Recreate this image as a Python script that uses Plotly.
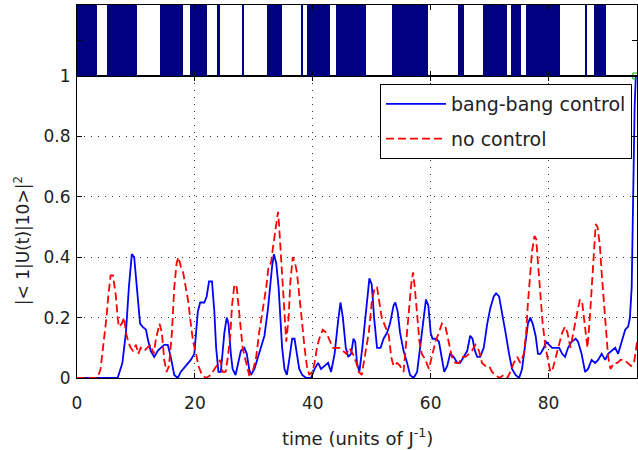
import plotly.graph_objects as go

# ---- data ----
t_bang = [0, 6.9, 7.7, 8.3, 8.8, 9.3, 9.7, 10.0, 10.3, 10.7, 11.1, 11.7, 12.0, 12.5, 13.1, 13.7, 14.2, 14.8,
          15.4, 15.9, 16.5, 17.1, 17.6, 18.5, 19.3, 19.9, 20.2, 20.5, 20.9, 21.6, 22.0, 22.4, 22.9, 23.3, 23.6,
          24.0, 24.4, 25.0, 25.4, 25.7, 26.1, 26.4, 26.9, 27.4, 27.8, 28.4, 28.8, 29.2, 29.5, 30.1, 30.7, 31.2,
          31.8, 32.4, 32.8, 33.1, 33.4, 33.8, 34.2, 34.5, 34.8, 35.2, 35.6, 36.0, 36.5, 36.9, 37.3, 37.7, 38.2,
          38.9, 39.7, 40.3, 40.9, 41.4, 42.0, 42.6, 43.1, 43.7, 44.3, 44.7, 45.1, 45.6, 46.0, 46.5, 46.9, 47.2,
          47.5, 47.9, 48.4, 48.9, 49.4, 49.6, 50.0, 50.4, 50.9, 51.5, 52.0, 52.6, 53.1, 53.7, 54.0, 54.4, 54.8,
          55.4, 56.0, 56.5, 57.1, 57.7, 58.2, 58.8, 59.2, 59.6, 60.0, 60.3, 60.9, 61.4, 61.8, 62.3, 62.8, 63.3,
          63.9, 64.5, 65.0, 65.6, 66.2, 66.7, 67.1, 67.5, 67.9, 68.4, 69.0, 69.6, 70.1, 70.7, 71.1, 71.6, 72.1,
          72.7, 73.3, 73.8, 74.4, 75.0, 75.5, 76.1, 76.5, 76.9, 77.3, 77.8, 78.2, 78.6, 79.2, 79.6, 80.1, 80.6,
          81.2, 81.8, 82.3, 82.8, 83.3, 83.9, 84.6, 85.0, 85.6, 86.2, 86.7, 87.3, 87.9, 88.4, 89.0, 89.6, 90.1,
          90.7, 91.3, 91.8, 92.4, 93.0, 93.5, 93.8, 94.1, 94.3, 94.6, 94.8]
p_bang = [0, 0, 0.05, 0.15, 0.30, 0.41, 0.40, 0.33, 0.25, 0.18, 0.17, 0.16, 0.13, 0.09, 0.07, 0.09, 0.10, 0.11,
          0.11, 0.07, 0.01, 0.0, 0.02, 0.04, 0.06, 0.08, 0.15, 0.22, 0.25, 0.25, 0.27, 0.32, 0.32, 0.22, 0.10,
          0.02, 0.02, 0.15, 0.20, 0.18, 0.08, 0.03, 0.01, 0.05, 0.09, 0.10, 0.08, 0.03, 0.01, 0.03, 0.07, 0.10,
          0.14, 0.23, 0.32, 0.37, 0.41, 0.38, 0.30, 0.20, 0.10, 0.03, 0.01, 0.06, 0.13, 0.13, 0.08, 0.03, 0.01,
          0.0, 0.0, 0.03, 0.05, 0.03, 0.04, 0.05, 0.02, 0.08, 0.19, 0.25, 0.20, 0.10, 0.07, 0.08, 0.13, 0.12,
          0.05, 0.02, 0.10, 0.20, 0.30, 0.33, 0.31, 0.20, 0.10, 0.10, 0.13, 0.15, 0.18, 0.24, 0.25, 0.22, 0.15,
          0.09, 0.05, 0.01, 0.0, 0.02, 0.10, 0.20, 0.26, 0.24, 0.15, 0.13, 0.13, 0.12, 0.08, 0.02, 0.04, 0.08,
          0.07, 0.05, 0.05, 0.07, 0.09, 0.14, 0.13, 0.09, 0.07, 0.07, 0.10, 0.18, 0.23, 0.27, 0.28, 0.27, 0.22,
          0.15, 0.08, 0.03, 0.01, 0.0, 0.03, 0.12, 0.18, 0.20, 0.18, 0.14, 0.08, 0.08, 0.10, 0.12, 0.11, 0.10,
          0.10, 0.10, 0.08, 0.07, 0.10, 0.12, 0.13, 0.12, 0.08, 0.02, 0.03, 0.06, 0.05, 0.06, 0.08, 0.06, 0.08,
          0.09, 0.10, 0.08, 0.12, 0.16, 0.17, 0.20, 0.30, 0.60, 0.90, 1.0]

t_none = [0, 3.5, 4.0, 4.6, 5.0, 5.3, 5.7, 6.1, 6.6, 6.9, 7.1, 7.6, 8.0, 8.3, 8.7, 9.1, 9.5, 10.0, 10.4, 10.8,
          11.4, 11.9, 12.5, 13.0, 13.4, 14.0, 14.4, 14.8, 15.2, 15.6, 16.1, 16.5, 16.9, 17.2, 17.6, 18.0, 18.5,
          18.9, 19.3, 19.7, 20.2, 20.6, 21.2, 21.9, 22.7, 23.3, 23.9, 24.3, 24.7, 25.2, 25.6, 26.0, 26.3, 26.7,
          27.1, 27.5, 27.8, 28.1, 28.7, 29.2, 29.8, 30.4, 30.9, 31.5, 32.1, 32.5, 32.9, 33.3, 33.7, 34.1, 34.3,
          34.6, 34.9, 35.2, 35.5, 35.9, 36.2, 36.6, 37.0, 37.3, 37.7, 38.1, 38.6, 39.0, 39.4, 39.9, 40.3, 40.7,
          41.1, 41.7, 42.3, 42.9, 43.4, 44.0, 44.5, 45.1, 45.7, 46.2, 46.8, 47.4, 47.8, 48.3, 48.9, 49.5, 50.0,
          50.5, 50.9, 51.3, 51.7, 52.3, 52.9, 53.3, 53.7, 54.3, 54.8, 55.4, 55.8, 56.3, 56.7, 57.0, 57.3, 57.7,
          58.1, 58.5, 59.1, 59.7, 60.2, 60.8, 61.4, 61.9, 62.5, 63.1, 63.6, 64.2, 64.8, 65.3, 65.9, 66.5, 67.0,
          67.6, 68.2, 68.7, 69.3, 69.9, 70.4, 71.0, 71.6, 72.4, 73.0, 73.5, 74.1, 74.7, 75.2, 75.8, 76.2, 76.5,
          76.9, 77.2, 77.6, 77.9, 78.2, 78.6, 79.0, 79.5, 80.0, 80.3, 80.7, 81.2, 81.8, 82.3, 82.8, 83.2, 83.7,
          84.3, 84.9, 85.3, 85.7, 86.2, 86.6, 87.0, 87.3, 87.7, 88.0, 88.3, 88.7, 89.0, 89.4, 89.7, 90.1, 90.5,
          91.1, 91.7, 92.2, 92.8, 93.4, 94.0, 94.5, 95.0]
p_none = [0, 0, 0.03, 0.13, 0.20, 0.27, 0.34, 0.34, 0.27, 0.20, 0.17, 0.18, 0.20, 0.15, 0.12, 0.10, 0.09, 0.11,
          0.08, 0.10, 0.09, 0.10, 0.11, 0.08, 0.13, 0.18, 0.15, 0.06, 0.02, 0.04, 0.15, 0.30, 0.38, 0.40, 0.37,
          0.35, 0.30, 0.25, 0.18, 0.12, 0.08, 0.04, 0.01, 0.0, 0.01, 0.03, 0.05, 0.06, 0.02, 0.02, 0.07, 0.14,
          0.24, 0.31, 0.30, 0.22, 0.15, 0.10, 0.05, 0.01, 0.02, 0.07, 0.15, 0.22, 0.30, 0.37, 0.38, 0.44, 0.50,
          0.55, 0.50, 0.40, 0.30, 0.20, 0.12, 0.20, 0.32, 0.40, 0.38, 0.35, 0.28, 0.20, 0.10, 0.04, 0.01, 0.02,
          0.05, 0.10, 0.13, 0.16, 0.15, 0.12, 0.10, 0.10, 0.10, 0.09, 0.08, 0.10, 0.08, 0.05, 0.02, 0.01, 0.08,
          0.15, 0.25, 0.30, 0.30, 0.25, 0.20, 0.17, 0.14, 0.07, 0.04, 0.05, 0.04, 0.02, 0.10, 0.22, 0.31, 0.35,
          0.30, 0.20, 0.12, 0.08, 0.06, 0.03, 0.07, 0.12, 0.15, 0.18, 0.17, 0.12, 0.07, 0.05, 0.05, 0.07, 0.07,
          0.08, 0.09, 0.11, 0.09, 0.05, 0.04, 0.04, 0.02, 0.01, 0.0, 0.01, 0.0, 0.02, 0.05, 0.07, 0.05, 0.08,
          0.15, 0.25, 0.35, 0.42, 0.47, 0.46, 0.38, 0.28, 0.18, 0.10, 0.05, 0.02, 0.03, 0.07, 0.12, 0.15, 0.17,
          0.15, 0.10, 0.16, 0.23, 0.26, 0.25, 0.17, 0.10, 0.20, 0.30, 0.42, 0.51, 0.50, 0.44, 0.35, 0.25, 0.15,
          0.07, 0.03, 0.05, 0.05, 0.06, 0.06, 0.05, 0.04, 0.05, 0.12]

# control pulses (on intervals) shown in the top strip
pulse_start = [0.0, 5.1, 14.1, 19.2, 23.8, 28.1, 32.3, 38.1, 39.1, 43.9, 53.4, 64.7, 68.9, 73.7, 76.1, 86.3, 87.7]
pulse_end = [3.4, 10.2, 18.0, 22.0, 24.3, 28.4, 34.7, 38.3, 42.9, 49.0, 59.6, 65.7, 73.0, 75.4, 81.9, 86.6, 89.7]

x_ticks = [0, 20, 40, 60, 80]
y_ticks = [0, 0.2, 0.4, 0.6, 0.8, 1]
y_ticktext = ["0", "0.2", "0.4", "0.6", "0.8", "1"]

FONT = "DejaVu Sans"
TXT = "#222222"

fig = go.Figure()

# top strip bars
centers = [(s + e) / 2 for s, e in zip(pulse_start, pulse_end)]
widths = [e - s for s, e in zip(pulse_start, pulse_end)]
fig.add_trace(go.Bar(x=centers, y=[1] * len(centers), width=widths, base=0,
                     marker=dict(color="#000080", line=dict(width=0)),
                     xaxis="x2", yaxis="y2", showlegend=False, hoverinfo="skip"))

fig.add_trace(go.Scatter(x=t_bang, y=p_bang, mode="lines", name="bang-bang control",
                         line=dict(color="#0000ff", width=1.8), legendgroup="a"))
fig.add_trace(go.Scatter(x=t_none, y=p_none, mode="lines", name="no control",
                         line=dict(color="#ff0000", width=1.8, dash="8px,4px"), legendgroup="b"))
fig.add_trace(go.Scatter(x=[t_bang[-1]], y=[p_bang[-1]], mode="markers",
                         marker=dict(symbol="square-open", color="#00aa00", size=6),
                         showlegend=False, cliponaxis=False))

main_top = 0.8097

axis_common = dict(showline=True, linecolor="black", linewidth=1, mirror="ticks",
                   ticks="inside", ticklen=5, tickcolor="black", zeroline=False, automargin=False)
tickfont = dict(family=FONT, size=17, color=TXT)

fig.update_layout(
    width=638, height=450,
    margin=dict(l=77, r=1, t=5, b=72, autoexpand=False),
    paper_bgcolor="white", plot_bgcolor="white",
    font=dict(family=FONT, size=16, color=TXT),
    bargap=0,
    xaxis=dict(domain=[0, 1], range=[0, 95], anchor="y", tickvals=x_ticks, tickfont=tickfont,
               ticklabelstandoff=10,
               showgrid=True, gridcolor="#333333", gridwidth=1, griddash="1px,6px",
               **axis_common),
    yaxis=dict(domain=[0, main_top], range=[0, 1], anchor="x", tickvals=y_ticks, ticktext=y_ticktext,
               tickfont=tickfont, ticklabelstandoff=2,
               showgrid=True, gridcolor="#333333", gridwidth=1, griddash="1px,6px",
               **axis_common),
    xaxis2=dict(domain=[0, 1], range=[0, 95], anchor="y2", matches="x", tickvals=x_ticks,
                showticklabels=False, showgrid=False, **axis_common),
    yaxis2=dict(domain=[main_top, 1], range=[0, 1], anchor="x2", tickvals=[0.5],
                showticklabels=False, showgrid=False, **axis_common),
    legend=dict(x=0.991, y=0.788, xanchor="right", yanchor="top",
                bgcolor="white", bordercolor="black", borderwidth=1,
                font=dict(family=FONT, size=19, color=TXT),
                itemwidth=60, tracegroupgap=7, traceorder="grouped"),
    annotations=[
        dict(text="|&lt; 1|U(t)|10&gt;|<sup>2</sup>", textangle=-90,
             xref="paper", yref="paper", x=-0.098, y=0.367,
             xanchor="center", yanchor="middle", showarrow=False,
             font=dict(family=FONT, size=17, color=TXT)),
        dict(text="time (units of J<sup>-1</sup>)",
             xref="paper", yref="paper", x=0.5, y=-0.158,
             xanchor="center", yanchor="middle", showarrow=False,
             font=dict(family=FONT, size=18, color=TXT)),
    ],
)

fig.write_html("out.html")
